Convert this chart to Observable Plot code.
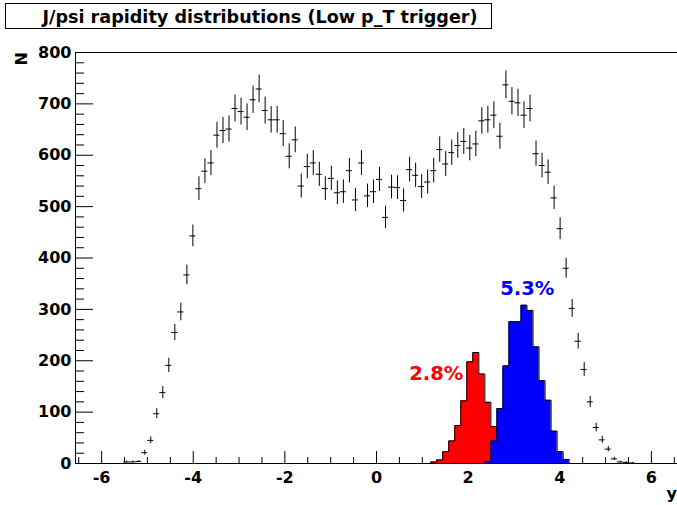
<!DOCTYPE html>
<html><head><meta charset="utf-8">
<script src="https://cdn.jsdelivr.net/npm/d3@7"></script>
<script src="https://cdn.jsdelivr.net/npm/@observablehq/plot@0.6"></script>
<style>
html,body{margin:0;padding:0;background:#fff;}
#chart{position:relative;width:677px;height:505px;}
#chart svg{display:block;}
</style></head><body><div id="chart"></div>
<script>
// ---- data ----
const titleText = "J/psi rapidity distributions (Low p_T trigger)";
const yTitle = "N";
const xTitle = "y";
const binLow = -6.57;       // 100 bins on [-6.57, 6.57]
const binWidth = 0.1314;
// all J/psi (black points), bins 0..99
const allCounts = [
  0,0,0,0,0,0,0,0,3,3,
  4,21,45,97,138,191,255,295,367,443,
  535,569,585,639,648,651,691,685,674,708,
  729,687,669,669,642,598,630,540,578,585,
  563,535,555,527,529,570,513,585,521,529,
  553,479,538,537,512,572,561,539,548,570,
  611,583,605,619,627,614,622,667,669,678,
  637,737,705,702,678,691,603,580,567,517,
  457,380,302,238,183,120,70,46,28,9,
  3,2,1,0,0,0,0,0,0,0
];
// red histogram (2.8%), starting at bin 59
const redFirstBin = 59;
const redCounts = [3,7,23,44,74,122,198,216,174,119,72,40];
const redLabel = "2.8%";
// blue histogram (5.3%), starting at bin 68
const blueFirstBin = 68;
const blueCounts = [4,44,107,190,276,276,308,298,227,161,123,63,23,8];
const blueLabel = "5.3%";
// axis ticks
const xMajor = [-6,-4,-2,0,2,4,6];
const xMinor = [-6.5,-5.5,-5,-4.5,-3.5,-3,-2.5,-1.5,-1,-0.5,0.5,1,1.5,2.5,3,3.5,4.5,5,5.5,6.5];
const yMajor = [0,100,200,300,400,500,600,700,800];
const yMinor = d3.range(20, 800, 20).filter(v => v % 100 !== 0);
const xDomain = [-6.57, 6.57];
const yDomain = [0, 800];

// ---- derived tables ----
const edge = i => binLow + i * binWidth;
const points = allCounts.map((n, i) => ({
  x0: edge(i), x1: edge(i + 1), xc: edge(i) + binWidth / 2,
  n, lo: n - Math.sqrt(n), hi: n + Math.sqrt(n)
})).filter(d => d.n > 0);

function stepData(first, counts) {
  const a = [{x: edge(first), y: 0}];
  counts.forEach((c, j) => a.push({x: edge(first + j), y: c}));
  a.push({x: edge(first + counts.length), y: 0});
  return a;
}
const redStep = stepData(redFirstBin, redCounts);
const blueStep = stepData(blueFirstBin, blueCounts);

// ---- layout ----
const W = 677, H = 505;
const mL = 75, mR = 0, mT = 52, mB = 42;
const frameW = W - mL - mR, frameH = H - mT - mB;
const FONT = "DejaVu Sans";

const plot = Plot.plot({
  width: W, height: H,
  marginLeft: mL, marginRight: mR, marginTop: mT, marginBottom: mB,
  x: {domain: xDomain, axis: null},
  y: {domain: yDomain, axis: null},
  style: {fontFamily: FONT, background: "white", overflow: "visible"},
  marks: [
    // frame lines
    Plot.ruleY([yDomain[1]], {stroke: "black", strokeWidth: 1}),
    Plot.ruleY([yDomain[0]], {stroke: "black", strokeWidth: 1}),
    Plot.ruleX([xDomain[0]], {stroke: "black", strokeWidth: 1}),
    // y ticks (inward)
    Plot.ruleY(yMajor, {y: d => d, x1: xDomain[0], x2: xDomain[1], insetRight: frameW - 18, stroke: "black"}),
    Plot.ruleY(yMinor, {y: d => d, x1: xDomain[0], x2: xDomain[1], insetRight: frameW - 9, stroke: "black"}),
    // x ticks (inward)
    Plot.ruleX(xMajor, {x: d => d, y1: yDomain[1], y2: yDomain[0], insetTop: frameH - 12, stroke: "black"}),
    Plot.ruleX(xMinor, {x: d => d, y1: yDomain[1], y2: yDomain[0], insetTop: frameH - 6, stroke: "black"}),
    // tick labels
    Plot.text(yMajor, {y: d => d, text: d => String(d), frameAnchor: "left", textAnchor: "end", dx: -4,
      fontSize: 16, fontWeight: "bold", fill: "black"}),
    Plot.text(xMajor, {x: d => d, text: d => String(d), frameAnchor: "bottom", lineAnchor: "top", dy: 8,
      fontSize: 16, fontWeight: "bold", fill: "black"}),
    // histograms
    Plot.areaY(redStep, {x: "x", y: "y", curve: "step-after", fill: "#ff0000"}),
    Plot.lineY(redStep, {x: "x", y: "y", curve: "step-after", stroke: "black", strokeWidth: 1}),
    Plot.areaY(blueStep, {x: "x", y: "y", curve: "step-after", fill: "#0000ff"}),
    Plot.lineY(blueStep, {x: "x", y: "y", curve: "step-after", stroke: "black", strokeWidth: 1}),
    // data points with error bars
    Plot.ruleY(points, {y: "n", x1: "x0", x2: "x1", stroke: "black", strokeWidth: 1}),
    Plot.ruleX(points, {x: "xc", y1: "hi", y2: "lo", stroke: "black", strokeWidth: 1}),
    // percentage labels
    Plot.text([redLabel], {x: 1.305, y: 175, text: d => d, fill: "#ff0000", fontSize: 19.5, fontWeight: "bold"}),
    Plot.text([blueLabel], {x: 3.29, y: 340, text: d => d, fill: "#0000ff", fontSize: 19.5, fontWeight: "bold"})
  ]
});

document.getElementById("chart").appendChild(plot);

// title box and axis titles
const svg = d3.select(plot);
const tg = svg.append("g");
tg.append("rect").attr("x", 5.5).attr("y", 3.5).attr("width", 486).attr("height", 25)
  .attr("fill", "white").attr("stroke", "black").attr("stroke-width", 1);
tg.append("text").attr("x", 260).attr("y", 22.5).attr("text-anchor", "middle")
  .attr("font-family", FONT).attr("font-weight", "bold").attr("font-size", 17.6)
  .attr("fill", "black").text(titleText);
svg.append("text").attr("transform", "translate(26.5,52) rotate(-90)").attr("text-anchor", "end")
  .attr("font-family", FONT).attr("font-weight", "bold").attr("font-size", 16)
  .attr("fill", "black").text(yTitle);
svg.append("text").attr("x", 677).attr("y", 499).attr("text-anchor", "end")
  .attr("font-family", FONT).attr("font-weight", "bold").attr("font-size", 16)
  .attr("fill", "black").text(xTitle);
</script>
</body></html>
